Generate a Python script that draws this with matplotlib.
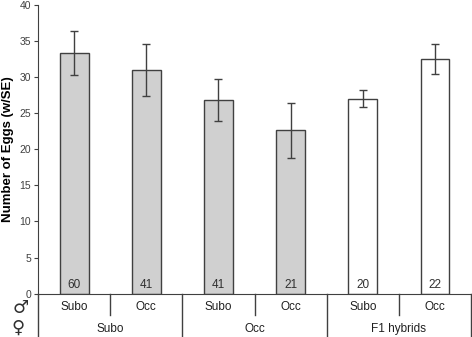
import numpy as np
import matplotlib
matplotlib.use("Agg")
import matplotlib.pyplot as plt

plt.rcParams['font.family'] = ['Liberation Sans', 'DejaVu Sans']

# data
male = ["Subo", "Occ", "Subo", "Occ", "Subo", "Occ"]
female = ["Subo", "Occ", "F1 hybrids"]
eggs = [33.3, 30.9, 26.8, 22.6, 27.0, 32.5]
se = [3.0, 3.6, 2.9, 3.8, 1.2, 2.1]
counts = [60, 41, 41, 21, 20, 22]
fills = ["#d0d0d0"] * 4 + ["white"] * 2

edge = "#404040"
fig = plt.figure(figsize=(4.72, 3.37), dpi=100)
ax = fig.add_axes([0.0805, 0.1285, 0.9175, 0.8575])

x = np.arange(len(eggs))
ax.bar(x, eggs, width=0.4, color=fills, edgecolor=edge, linewidth=1.0)
ax.errorbar(x, eggs, yerr=se, fmt="none", ecolor=edge, elinewidth=1.0,
            capsize=3, capthick=1.0)
for xi, n in zip(x, counts):
    ax.text(xi, 0.4, str(n), ha="center", va="bottom", fontsize=8.5, color="#303030")

ax.set_xlim(-0.5, 5.5)
ax.set_ylim(0, 40)
ax.set_yticks(range(0, 41, 5))
ax.tick_params(axis="y", labelsize=7.5, labelcolor="#404040", length=3,
               color=edge, pad=2)
ax.set_xticks([])
ax.set_ylabel("Number of Eggs (w/SE)", fontsize=9.5, fontweight="bold", labelpad=4)
for s in ["top", "right"]:
    ax.spines[s].set_visible(False)
for s in ["left", "bottom"]:
    ax.spines[s].set_color(edge)

# table-like labels under the axis
tr = ax.get_xaxis_transform()
row1 = -0.074
bottom = -0.15
for xi, lab in zip(x, male):
    ax.text(xi, -0.047, lab, transform=tr, ha="center", va="center",
            fontsize=8.5, color="#202020")
for g, lab in enumerate(female):
    ax.text(2 * g + 0.5, -0.122, lab, transform=tr,
            ha="center", va="center", fontsize=8.5, color="#202020")
for k in range(7):
    xs = k - 0.5
    y0 = row1 if k % 2 == 1 else bottom
    ax.plot([xs, xs], [0, y0], transform=tr, color=edge, lw=1.0, clip_on=False)

fig.text(0.044, 0.086, "\u2642", ha="center", va="center", fontsize=13,
         family="DejaVu Sans", color="#303030")
fig.text(0.038, 0.027, "\u2640", ha="center", va="center", fontsize=13,
         family="DejaVu Sans", color="#303030")

fig.savefig("out.png", dpi=100)
